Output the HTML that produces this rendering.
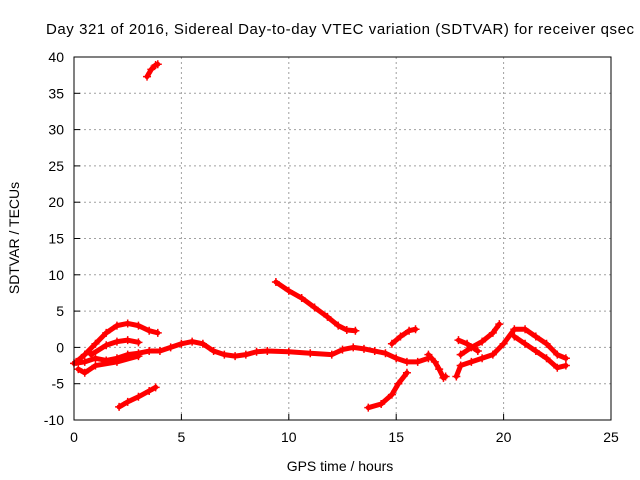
<!DOCTYPE html>
<html><head><meta charset="utf-8"><style>
body{margin:0;background:#fff}
svg{display:block;font-family:"Liberation Sans",sans-serif}
</style></head><body>
<svg width="640" height="480" viewBox="0 0 640 480" id="chart">
<rect width="640" height="480" fill="#fff"/>
<text x="46" y="34" font-size="15" fill="#000" textLength="588" lengthAdjust="spacing">Day 321 of 2016, Sidereal Day-to-day VTEC variation (SDTVAR) for receiver qsec</text>
<text x="340" y="471" font-size="14" text-anchor="middle">GPS time / hours</text>
<text x="0" y="0" font-size="14" text-anchor="middle" transform="translate(19,238) rotate(-90)">SDTVAR / TECUs</text>
<g id="grid"></g><g id="ticks"></g><g id="marks"></g>
<rect x="74" y="57" width="537" height="363" fill="none" stroke="#000" stroke-width="1"/>
</svg>
<script>
const xTicks=[0,5,10,15,20,25];
const yTicks=[-10,-5,0,5,10,15,20,25,30,35,40];
const track1=[[3.4,37.3],[3.6,38.3],[3.8,38.9],[3.9,39]];
const track2=[[2.1,-8.2],[2.5,-7.5],[3,-6.8],[3.5,-6],[3.8,-5.5]];
const track3=[[9.4,9],[10,7.8],[10.6,6.8],[11.2,5.5],[11.8,4.2],[12.3,3],[12.7,2.4],[13.1,2.3]];
const track4=[[13.7,-8.3],[14.3,-7.8],[14.8,-6.5],[15.1,-5],[15.5,-3.5]];
const track5=[[0.1,-2],[0.5,-1],[1,0.5],[1.5,2],[2,3],[2.5,3.3],[3,3],[3.5,2.3],[3.9,2]];
const track6=[[0.8,-1],[1.5,0.3],[2,0.8],[2.5,1],[3,0.7]];
const track7=[[0,-2.2],[0.5,-2],[1,-1.5],[1.5,-1.8],[2,-1.5],[2.5,-1],[3,-0.8],[3.5,-0.5],[4,-0.5],[4.5,0],[5,0.5],[5.5,0.8],[6,0.5],[6.5,-0.5],[7,-1],[7.5,-1.2],[8,-1],[8.5,-0.6],[9,-0.5],[10,-0.6],[11,-0.8],[12,-1],[12.5,-0.3],[13,0],[13.5,-0.2],[14,-0.5],[14.5,-0.8],[15,-1.5],[15.5,-2],[16,-2],[16.5,-1.5]];
const track8=[[0.2,-3],[0.5,-3.5],[1,-2.5],[2,-2],[3,-1.2]];
const track9=[[14.8,0.5],[15.2,1.5],[15.6,2.3],[15.9,2.5]];
const track10=[[16.5,-1],[16.8,-2],[17,-3],[17.2,-4.2],[17.3,-4]];
const track11=[[17.8,-4],[18,-2.5],[18.5,-2],[19,-1.5],[19.5,-1],[20,0.5],[20.5,2.5],[21,2.5],[21.5,1.5],[22,0.5],[22.5,-1],[22.9,-1.5]];
const track12=[[18,-1],[18.5,0],[19,0.8],[19.5,2],[19.8,3.2]];
const track13=[[17.9,1],[18.3,0.5],[18.8,-0.5]];
const track14=[[20.5,1.5],[21,0.5],[21.5,-0.5],[22,-1.5],[22.5,-2.8],[22.9,-2.5]];
const tracks=[track1,track2,track3,track4,track5,track6,track7,track8,track9,track10,track11,track12,track13,track14];
const NS="http://www.w3.org/2000/svg";
const X0=74,X1=611,Y0=420,Y1=57;
function sx(v){return X0+(v-0)/25*(X1-X0);}
function sy(v){return Y0-(v+10)/50*(Y0-Y1);}
const grid=document.getElementById('grid'),ticks=document.getElementById('ticks'),marks=document.getElementById('marks');
function mk(t,a,p){const e=document.createElementNS(NS,t);for(const k in a)e.setAttribute(k,a[k]);p.appendChild(e);return e;}
xTicks.forEach(v=>{const x=sx(v);
 if(v>0&&v<25){const g=mk('line',{x1:x,x2:x,y1:Y1,y2:Y0,stroke:'#a0a0a0','stroke-dasharray':'2,3'},grid);
 
 }
 const t=mk('text',{x:x,y:Y0+22,'font-size':14,'text-anchor':'middle'},ticks);t.textContent=v;
 
 
 mk('line',{x1:x,x2:x,y1:Y0,y2:Y0-6,stroke:'#000'},ticks);});
yTicks.forEach(v=>{const y=sy(v);
 if(v>-10&&v<40){const g=mk('line',{x1:X0,x2:X1,y1:y,y2:y,stroke:'#a0a0a0','stroke-dasharray':'2,3'},grid);
 
 }
 const t=mk('text',{x:X0-10,y:y+5,'font-size':14,'text-anchor':'end'},ticks);t.textContent=v;
 
 
 mk('line',{x1:X0,x2:X0+6,y1:y,y2:y,stroke:'#000'},ticks);});
tracks.forEach((tr,i)=>{
 const pl=mk('polyline',{points:tr.map(p=>sx(p[0])+','+sy(p[1])).join(' '),fill:'none',stroke:'#f00','stroke-width':5,'stroke-linejoin':'round','stroke-linecap':'round'},marks);
 
 
 tr.forEach(p=>{const x=sx(p[0]),y=sy(p[1]);
  const c=mk('path',{d:`M${x-4},${y}H${x+4}M${x},${y-4}V${y+4}`,stroke:'#f00','stroke-width':1.5},marks);
  
  });
});
</script>
</body></html>
